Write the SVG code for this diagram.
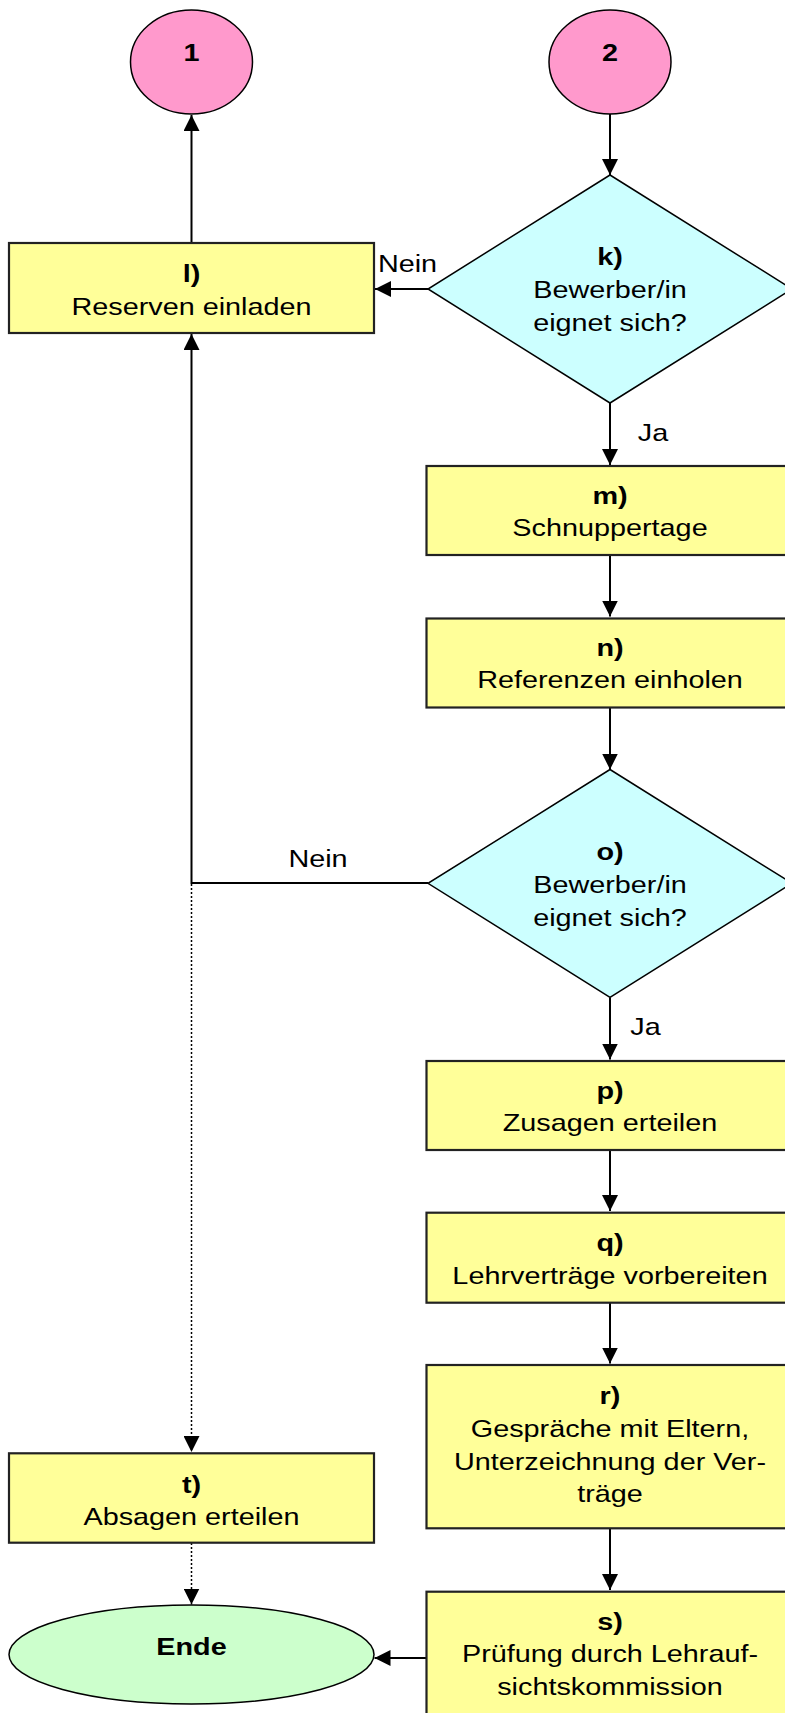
<svg xmlns="http://www.w3.org/2000/svg" width="785" height="1713" viewBox="0 0 785 1713">
<style>
text{font-family:"Liberation Sans",Arial,sans-serif;font-size:24px;text-anchor:middle;fill:#000}
.b{font-weight:bold}
.box{fill:#FFFF99;stroke:#222;stroke-width:2.2}
.dia{fill:#CCFFFF;stroke:#000;stroke-width:1.5}
.con{fill:#FF99CC;stroke:#000;stroke-width:1.5}
.end{fill:#CCFFCC;stroke:#000;stroke-width:1.5}
.ln{fill:none;stroke:#000;stroke-width:2}
.dot{fill:none;stroke:#000;stroke-width:1.5;stroke-dasharray:2 2}
</style>
<defs>
<marker id="ah" markerUnits="userSpaceOnUse" markerWidth="16" markerHeight="16" refX="16" refY="8" orient="auto" viewBox="0 0 16 16">
<path d="M0,0 L16,8 L0,16 z" fill="#000"/>
</marker>
</defs>
<rect width="785" height="1713" fill="#fff"/>
<g id="connectors">
<line class="ln" x1="191.5" y1="243" x2="191.5" y2="115" marker-end="url(#ah)"/>
<line class="ln" x1="610" y1="114" x2="610" y2="175" marker-end="url(#ah)"/>
<line class="ln" x1="428" y1="289" x2="375" y2="289" marker-end="url(#ah)"/>
<text transform="translate(407.5 272) scale(1.2 1)">Nein</text>
<line class="ln" x1="610" y1="403" x2="610" y2="465" marker-end="url(#ah)"/>
<text transform="translate(653 441) scale(1.2 1)">Ja</text>
<line class="ln" x1="610" y1="555.5" x2="610" y2="616.5" marker-end="url(#ah)"/>
<line class="ln" x1="610" y1="707.5" x2="610" y2="769.5" marker-end="url(#ah)"/>
<polyline class="ln" points="428,883 191.5,883 191.5,334" marker-end="url(#ah)"/>
<text transform="translate(318 867) scale(1.2 1)">Nein</text>
<line class="ln" x1="610" y1="997.5" x2="610" y2="1059.5" marker-end="url(#ah)"/>
<text transform="translate(645.5 1035) scale(1.2 1)">Ja</text>
<line class="ln" x1="610" y1="1150" x2="610" y2="1211" marker-end="url(#ah)"/>
<line class="ln" x1="610" y1="1303" x2="610" y2="1363.5" marker-end="url(#ah)"/>
<line class="ln" x1="610" y1="1528.5" x2="610" y2="1590" marker-end="url(#ah)"/>
<line class="dot" x1="191.5" y1="884" x2="191.5" y2="1452" marker-end="url(#ah)"/>
<line class="dot" x1="191.5" y1="1543" x2="191.5" y2="1604.5" marker-end="url(#ah)"/>
<line class="ln" x1="426.5" y1="1658" x2="374.5" y2="1658" marker-end="url(#ah)"/>
</g>
<g id="c1">
<ellipse class="con" cx="191.5" cy="62" rx="61" ry="52"/>
<text class="b" transform="translate(191.5 61) scale(1.2 1)">1</text>
</g>
<g id="c2">
<ellipse class="con" cx="610" cy="62" rx="61" ry="52"/>
<text class="b" transform="translate(610 61) scale(1.2 1)">2</text>
</g>
<g id="k">
<polygon class="dia" points="610,175 792,289 610,403 428,289"/>
<text class="b" transform="translate(610 265) scale(1.2 1)">k)</text>
<text transform="translate(610 298) scale(1.2 1)">Bewerber/in</text>
<text transform="translate(610 331) scale(1.2 1)">eignet sich?</text>
</g>
<g id="l">
<rect class="box" x="9" y="243" width="365" height="90"/>
<text class="b" transform="translate(191.5 282) scale(1.2 1)">l)</text>
<text transform="translate(191.5 314.5) scale(1.2 1)">Reserven einladen</text>
</g>
<g id="m">
<rect class="box" x="426.5" y="466" width="367" height="89"/>
<text class="b" transform="translate(610 504) scale(1.2 1)">m)</text>
<text transform="translate(610 536) scale(1.2 1)">Schnuppertage</text>
</g>
<g id="n">
<rect class="box" x="426.5" y="618.5" width="367" height="89"/>
<text class="b" transform="translate(610 655.5) scale(1.2 1)">n)</text>
<text transform="translate(610 688) scale(1.2 1)">Referenzen einholen</text>
</g>
<g id="o">
<polygon class="dia" points="610,769.5 792,883.3 610,997.3 428,883.3"/>
<text class="b" transform="translate(610 860) scale(1.2 1)">o)</text>
<text transform="translate(610 893) scale(1.2 1)">Bewerber/in</text>
<text transform="translate(610 926) scale(1.2 1)">eignet sich?</text>
</g>
<g id="p">
<rect class="box" x="426.5" y="1061" width="367" height="89"/>
<text class="b" transform="translate(610 1098.5) scale(1.2 1)">p)</text>
<text transform="translate(610 1131) scale(1.2 1)">Zusagen erteilen</text>
</g>
<g id="q">
<rect class="box" x="426.5" y="1212.7" width="367" height="90"/>
<text class="b" transform="translate(610 1251) scale(1.2 1)">q)</text>
<text transform="translate(610 1283.5) scale(1.2 1)">Lehrverträge vorbereiten</text>
</g>
<g id="r">
<rect class="box" x="426.5" y="1365" width="367" height="163.3"/>
<text class="b" transform="translate(610 1403.5) scale(1.2 1)">r)</text>
<text transform="translate(610 1436.5) scale(1.2 1)">Gespräche mit Eltern,</text>
<text transform="translate(610 1469.5) scale(1.2 1)">Unterzeichnung der Ver-</text>
<text transform="translate(610 1502) scale(1.2 1)">träge</text>
</g>
<g id="s">
<rect class="box" x="426.5" y="1591.7" width="367" height="140"/>
<text class="b" transform="translate(610 1630) scale(1.2 1)">s)</text>
<text transform="translate(610 1662) scale(1.2 1)">Prüfung durch Lehrauf-</text>
<text transform="translate(610 1695) scale(1.2 1)">sichtskommission</text>
</g>
<g id="t">
<rect class="box" x="9" y="1453.3" width="365" height="89.4"/>
<text class="b" transform="translate(191.5 1492.5) scale(1.2 1)">t)</text>
<text transform="translate(191.5 1525) scale(1.2 1)">Absagen erteilen</text>
</g>
<g id="ende">
<ellipse class="end" cx="191.5" cy="1654.5" rx="182.5" ry="49.5"/>
<text class="b" transform="translate(191.5 1655) scale(1.2 1)">Ende</text>
</g>
</svg>
